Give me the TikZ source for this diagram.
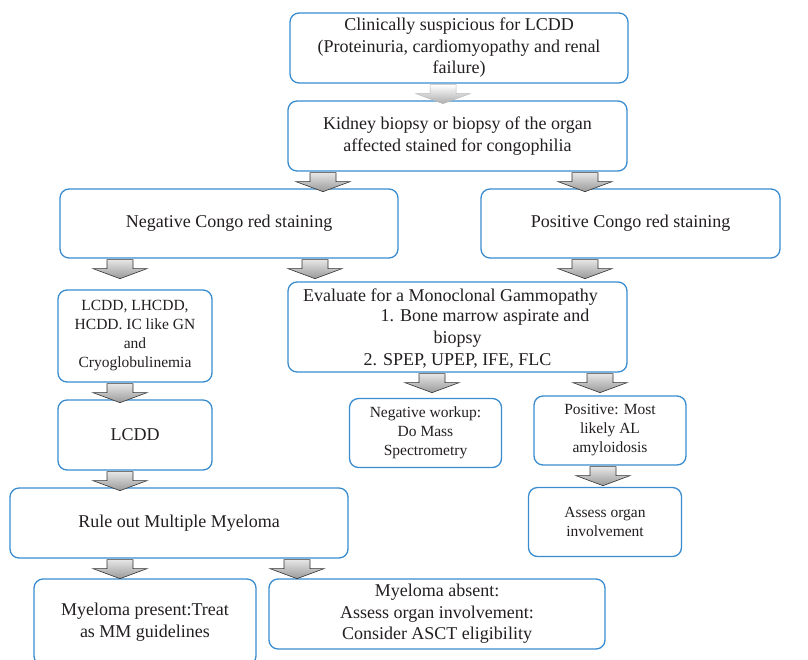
\documentclass[tikz,border=0pt]{standalone}
\usepackage{fontspec}
\setmainfont{Liberation Serif}
\definecolor{boxblue}{RGB}{58,140,208}
\definecolor{txt}{RGB}{35,31,32}
\newcommand\fbig{\fontsize{18}{21.5}\selectfont}
\newcommand\fsmall{\fontsize{15.5}{19}\selectfont}
\tikzset{
  box/.style={draw=boxblue, line width=1.3pt, rounded corners=9pt, fill=white,
    align=center, inner sep=1pt, text=txt, font=\fbig},
  sbox/.style={box, font=\fsmall},
  blk/.style={top color=gray!20, bottom color=gray!80, draw=gray!40!black, line width=0.6pt},
  blklight/.style={top color=white, bottom color=gray!65, draw=gray!55, line width=0.5pt},
  evtext/.style={text=txt, font=\fbig, inner sep=0pt}
}
% block arrow hanging below node #2 at x = #3
\newcommand\barr[3][blk]{\draw[#1, shift={(#2.south -| #3,0)}]
  (-13,1) -- (13,1) -- (13,10) -- (27,10) -- (0,20) -- (-27,10) -- (-13,10) -- cycle;}
\begin{document}
\begin{tikzpicture}[x=1pt,y=-1pt]
\useasboundingbox (0,0) rectangle (808,659);
\fill[white] (0,0) rectangle (808,659);

\node[box, minimum width=338pt, minimum height=70pt] (b1) at (459,48)
  {Clinically suspicious for LCDD\\(Proteinuria, cardiomyopathy and renal\\failure)};
\node[box, minimum width=339pt, minimum height=70pt] (b2) at (457.5,136)
  {Kidney biopsy or biopsy of the organ\\affected stained for congophilia};
\node[box, minimum width=338pt, minimum height=69pt] (b3) at (229,223.5)
  {Negative Congo red staining};
\node[box, minimum width=299pt, minimum height=69pt] (b4) at (630.5,223.5)
  {Positive Congo red staining};
\node[sbox, minimum width=154pt, minimum height=92pt] (b5) at (135,336)
  {LCDD, LHCDD,\\HCDD. IC like GN\\and\\Cryoglobulinemia};
\node[box, minimum width=339pt, minimum height=90pt] (b6) at (457.5,327) {};
\node[evtext] (ev1) at (450.5,297) {Evaluate for a Monoclonal Gammopathy};
\node[evtext] (ev2) at (485,317) {1. Bone marrow aspirate and};
\node[evtext] (ev3) at (457.5,339) {biopsy};
\node[evtext] (ev4) at (457.5,361) {2. SPEP, UPEP, IFE, FLC};
\node[box, minimum width=154pt, minimum height=70pt] (b7) at (135,435) {LCDD};
\node[sbox, minimum width=152pt, minimum height=69pt] (b8) at (425.5,433)
  {Negative workup:\\Do Mass\\Spectrometry};
\node[sbox, minimum width=152pt, minimum height=69pt] (b9) at (610,430.5)
  {Positive: Most\\likely AL\\amyloidosis};
\node[sbox, minimum width=153pt, minimum height=69pt] (b10) at (605,522)
  {Assess organ\\involvement};
\node[box, minimum width=338pt, minimum height=70pt] (b11) at (179,523)
  {Rule out Multiple Myeloma};
\node[box, minimum width=222pt, minimum height=86pt] (b12) at (145,622)
  {Myeloma present:Treat\\as MM guidelines};
\node[box, minimum width=336pt, minimum height=70pt] (b13) at (437,614)
  {Myeloma absent:\\Assess organ involvement:\\Consider ASCT eligibility};

\barr[blklight]{b1}{443}
\barr{b2}{323}
\barr{b2}{585}
\barr{b3}{120}
\barr{b3}{315}
\barr{b4}{585}
\barr{b5}{120}
\barr{b6}{432}
\barr{b6}{600}
\barr{b9}{603}
\barr{b7}{120}
\barr{b11}{120}
\barr{b11}{297}
\end{tikzpicture}
\end{document}
